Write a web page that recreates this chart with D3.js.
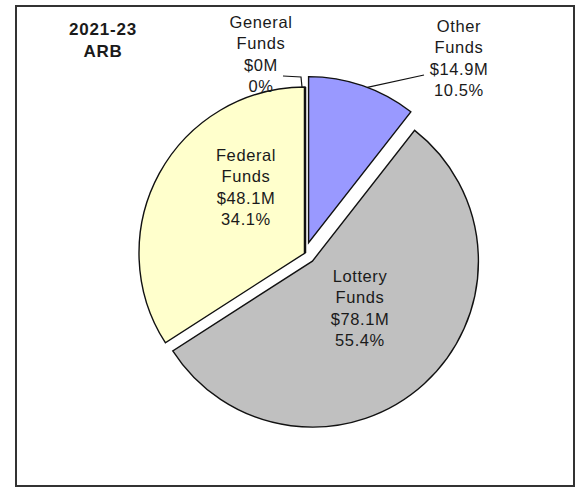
<!DOCTYPE html>
<html>
<head>
<meta charset="utf-8">
<script src="https://cdn.jsdelivr.net/npm/d3@7"></script>
<style>
  html, body { margin: 0; padding: 0; background: #fff; }
  svg { display: block; }
  text { font-family: "Liberation Sans", Arial, sans-serif; fill: #1a1a1a; }
</style>
</head>
<body>
<svg id="chart" width="576" height="488"></svg>
<script>
// ---- data ----
const titleLines = ["2021-23", "ARB"];
const categories = ["General Funds", "Other Funds", "Lottery Funds", "Federal Funds"];
const values = [0, 14.9, 78.1, 48.1];
const amountLabels = ["$0M", "$14.9M", "$78.1M", "$48.1M"];
const percentLabels = ["0%", "10.5%", "55.4%", "34.1%"];
const colors = ["#FFFFFF", "#9999FF", "#C0C0C0", "#FFFFCC"];
const exploded = [false, true, true, false];

// ---- layout ----
const svg = d3.select("#chart");
const cx = 305, cy = 253, R = 166, explodeDist = 11;

// frame
svg.append("rect")
  .attr("x", 16).attr("y", 6).attr("width", 558).attr("height", 480)
  .attr("fill", "none").attr("stroke", "#333").attr("stroke-width", 2);

const pie = d3.pie().sort(null).value(d => d.value);
const arcs = pie(categories.map((c, i) => ({ name: c, value: values[i], i })));
const arc = d3.arc().innerRadius(0).outerRadius(R);

function offset(a) {
  if (!exploded[a.data.i]) return [0, 0];
  const m = (a.startAngle + a.endAngle) / 2;
  return [Math.sin(m) * explodeDist, -Math.cos(m) * explodeDist];
}

const g = svg.append("g").attr("transform", `translate(${cx},${cy})`);

// draw non-zero slices then zero slice on top
const order = arcs.slice().sort((a, b) => (a.value === 0) - (b.value === 0));
g.selectAll("path.slice").data(order).enter().append("path")
  .attr("class", "slice")
  .attr("d", arc)
  .attr("transform", d => { const o = offset(d); return `translate(${o[0]},${o[1]})`; })
  .attr("fill", d => colors[d.data.i])
  .attr("stroke", "#111")
  .attr("stroke-width", d => d.value === 0 ? 2.5 : 1.4)
  .attr("stroke-linejoin", "miter");

// title
const title = svg.append("text")
  .attr("text-anchor", "middle")
  .style("font-weight", "bold").style("font-size", "17px").style("letter-spacing", "0.8px");
titleLines.forEach((t, k) => title.append("tspan").attr("x", 103).attr("y", 35 + k * 22).text(t));

// labels
function labelLines(i) {
  const parts = categories[i].split(" ");
  return [parts[0], parts[1], amountLabels[i], percentLabels[i]];
}
const labelPos = [
  { x: 261, y: 28 },   // General
  { x: 459, y: 32 },   // Other
  { x: 360, y: 282 },  // Lottery
  { x: 246, y: 161 }   // Federal
];
categories.forEach((c, i) => {
  const t = svg.append("text").attr("text-anchor", "middle")
    .style("font-size", "16.5px").style("letter-spacing", "0.6px");
  labelLines(i).forEach((s, k) =>
    t.append("tspan").attr("x", labelPos[i].x).attr("y", labelPos[i].y + k * 21.3).text(s));
});

// leader lines
const line = d3.line();
// General Funds (zero slice at top)
const gA = arcs[0];
const gTop = [cx + Math.sin(gA.startAngle) * R, cy - Math.cos(gA.startAngle) * R];
svg.append("path")
  .attr("d", line([[283, 76], [gTop[0] - 4, 77], [gTop[0] - 3, gTop[1]]]))
  .attr("fill", "none").attr("stroke", "#111").attr("stroke-width", 1.2);
// Other Funds
const oA = arcs[1];
const oM = (oA.startAngle + oA.endAngle) / 2 + 0.03;
const oOff = offset(oA);
const oPt = [cx + oOff[0] + Math.sin(oM) * R, cy + oOff[1] - Math.cos(oM) * R];
svg.append("path")
  .attr("d", line([oPt, [424, 75]]))
  .attr("fill", "none").attr("stroke", "#111").attr("stroke-width", 1.2);
</script>
</body>
</html>
